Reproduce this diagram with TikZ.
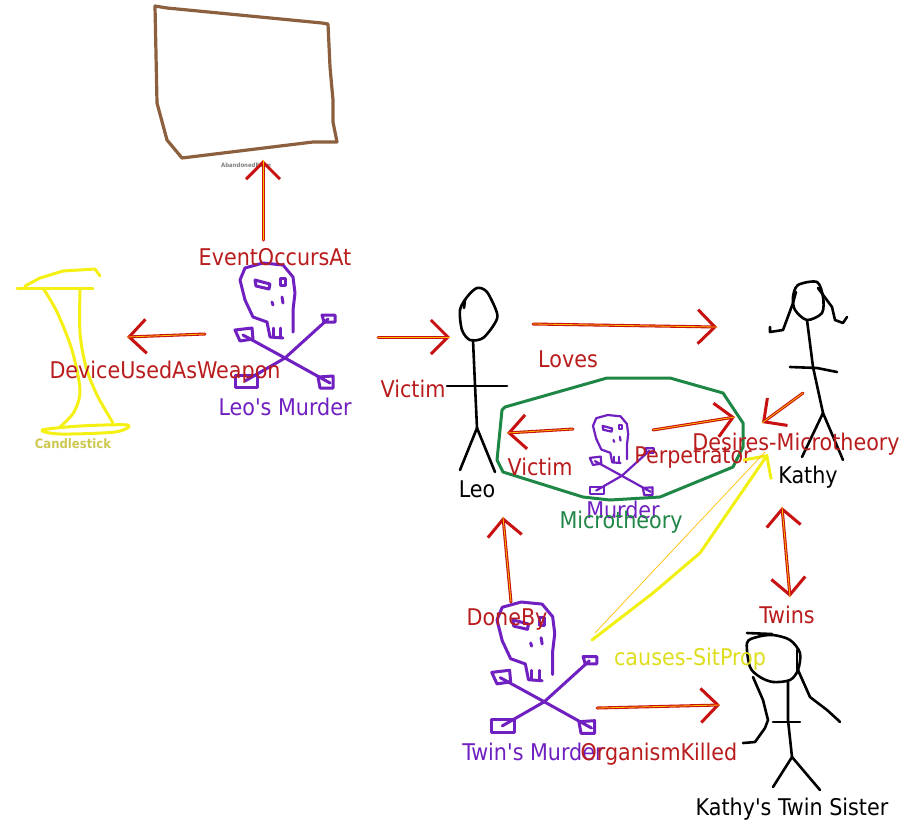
\documentclass[tikz,border=0pt]{standalone}
\usepackage{fontspec}
\setmainfont{DejaVu Sans Condensed}
\usetikzlibrary{arrows.meta}

\definecolor{relred}{RGB}{200,16,16}
\definecolor{relyel}{RGB}{255,190,0}
\definecolor{lblred}{RGB}{185,28,28}
\definecolor{murderpurple}{RGB}{112,32,192}
\definecolor{mtgreen}{RGB}{30,135,70}
\definecolor{placebrown}{RGB}{140,96,62}
\definecolor{candleyel}{RGB}{245,240,20}
\definecolor{candletext}{RGB}{205,200,80}
\definecolor{causeyel}{RGB}{240,240,20}
\definecolor{causetext}{RGB}{222,222,30}

\tikzset{
  lbl/.style={anchor=base, inner sep=0pt, font=\fontsize{23}{27}\selectfont},
  rellbl/.style={lbl, text=lblred},
  barb/.tip={Straight Barb[length=17pt,width=34pt]},
  rel/.style={draw=relred, line width=3pt, -barb,
    postaction={draw=relyel, line width=0.8pt, -}},
  relboth/.style={draw=relred, line width=3pt, barb-barb,
    postaction={draw=relyel, line width=0.8pt, -}},
  causal/.style={draw=causeyel, line width=3pt, -barb},
  figure/.style={draw=black, line width=2.6pt},
  candle/.style={draw=candleyel, line width=3pt},
  skull/.pic={
    % cranium
    \draw (5,37) -- (0,17) -- (5,5) -- (23,0) -- (43,2) -- (53,14) -- (55,30) -- (53,47) -- (53,69);
    \draw (5,37) -- (13,54) -- (27,59) -- (30,74) -- (43,75);
    \draw (33,65) -- (33,74) (40,65) -- (40,74);
    % eyes and nose
    \draw (15,17) -- (30,21) -- (29,26) -- (16,23) -- cycle;
    \draw (40,15) rectangle (45,22);
    \draw (32,39) -- (33,42) (42,34) -- (43,40);
    % crossbones
    \draw (3,72) -- (45,95) -- (90,120);
    \draw (-5,67) -- (12,65) -- (13,76) -- (0,78) -- cycle;
    \draw (78,114) -- (93,113) -- (93,125) -- (80,125) -- cycle;
    \draw (88,56) -- (45,95) -- (5,118);
    \draw (82,52) -- (95,52) -- (95,59) -- (84,59) -- cycle;
    \draw (-5,112) -- (17,112) -- (17,124) -- (-5,124) -- cycle;
  }
}

\begin{document}
\begin{tikzpicture}[x=1pt, y=-1pt, line cap=round, line join=round]
\fill[white] (0,0) rectangle (915,823);
\useasboundingbox (0,0) rectangle (915,823);

% ---------- the abandoned farm ----------
\draw[draw=placebrown, line width=3.2pt]
  (155,6) -- (157,103) -- (167,140) -- (182,158) -- (313,142) -- (337,142)
  -- (333,122) -- (333,100) -- (330,67) -- (328,24) -- (322,23) -- (167,8) -- cycle;
\node[anchor=base, inner sep=0pt, text=gray, font=\fontsize{6}{7}\selectfont\bfseries]
  (farm) at (246,167) {AbandonedFarm};

% ---------- the candlestick ----------
\draw[candle] (17,288) -- (93,288);
\draw[candle] (25,286) -- (40,278) -- (63,271) -- (95,269) -- (100,276);
\draw[candle] plot[smooth] coordinates {(43,288) (57,312) (72,350) (80,390) (74,412) (60,427)};
\draw[candle] plot[smooth] coordinates {(80,288) (80,333) (86,367) (97,395) (113,423)};
\draw[candle] plot[smooth cycle] coordinates {(42,430) (80,426) (128,425) (115,432) (60,434)};
\node[anchor=base, inner sep=0pt, text=candletext, font=\fontsize{13}{15}\selectfont\bfseries]
  (candlestick) at (73,448) {Candlestick};

% ---------- murders ----------
\pic[color=murderpurple, line width=3pt] (leosMurderSkull) at (240,263) {skull};
\node[lbl, text=murderpurple] (leosMurder) at (285,415) {Leo\textquotesingle s Murder};

\pic[color=murderpurple, line width=3pt, scale=1.05] (twinsMurderSkull) at (497,602) {skull};
\node[lbl, text=murderpurple] (twinsMurder) at (533,760) {Twin\textquotesingle s Murder};

% ---------- Leo ----------
\draw[figure] plot[smooth cycle] coordinates
  {(467,297) (477,288) (487,292) (497,313) (495,323) (483,338) (470,340) (462,330) (460,310)};
\draw[figure] (465,300) -- (464,308);
\draw[figure] (473,340) -- (475,385) -- (477,428);
\draw[figure] (447,386) -- (507,386);
\draw[figure] (460,470) -- (477,428) -- (495,472);
\node[lbl] (leo) at (477,497) {Leo};

% ---------- Kathy ----------
\draw[figure] plot[smooth cycle] coordinates
  {(798,285) (817,282) (823,297) (822,313) (807,320) (795,310) (793,297)};
\draw[figure] (818,288) -- (832,307) -- (835,320) -- (843,323) -- (847,317);
\draw[figure] (796,292) -- (793,303) -- (783,330) -- (770,332) -- (770,327);
\draw[figure] (807,320) -- (813,367) -- (823,413);
\draw[figure] (790,367) -- (817,368) -- (837,372);
\draw[figure] (802,457) -- (823,413) -- (843,460);
\node[lbl] (kathy) at (808,483) {Kathy};

% ---------- Kathy's twin sister ----------
\draw[figure] plot[smooth cycle] coordinates
  {(747,643) (757,637) (773,635) (790,640) (800,653) (798,670) (790,680) (773,682) (760,677) (750,667)};
\draw[figure] (747,633) -- (772,634);
\draw[figure] (797,650) -- (797,670);
\draw[figure] (798,670) -- (810,697) -- (827,710) -- (838,720) -- (840,722);
\draw[figure] (753,677) -- (763,700) -- (768,720) -- (765,728) -- (755,742) -- (743,743);
\draw[figure] (788,682) -- (788,720) -- (792,757);
\draw[figure] (773,722) -- (800,722);
\draw[figure] (773,787) -- (792,757) -- (820,790);
\node[lbl] (sister) at (792,815) {Kathy\textquotesingle s Twin Sister};

% ---------- the microtheory ----------
\draw[draw=mtgreen, line width=3pt]
  (505,407) -- (607,378) -- (670,378) -- (723,393) -- (743,423) -- (743,447)
  -- (733,467) -- (660,497) -- (610,500) -- (583,497) -- (503,472) -- (497,460) -- (502,410) -- cycle;
\pic[color=murderpurple, line width=2.2pt, scale=0.64] (murderSkull) at (593,415) {skull};
\node[lbl, text=murderpurple] (murder) at (623,518) {Murder};
\node[lbl, text=mtgreen] (microtheory) at (621,528) {Microtheory};

% ---------- arrow end points ----------
\coordinate (eoFrom) at (263,240);   \coordinate (eoTo) at (263,160);
\coordinate (duFrom) at (205,334);   \coordinate (duTo) at (127,337);
\coordinate (viFrom) at (378,337);   \coordinate (viTo) at (450,337);
\coordinate (loFrom) at (533,324);   \coordinate (loTo) at (717,327);
\coordinate (ivFrom) at (573,429);   \coordinate (ivTo) at (507,433);
\coordinate (peFrom) at (653,430);   \coordinate (peTo) at (735,417);
\coordinate (deFrom) at (803,393);   \coordinate (deTo) at (762,423);
\coordinate (dbFrom) at (511,602);   \coordinate (dbTo) at (503,517);
\coordinate (okFrom) at (597,708);   \coordinate (okTo) at (720,705);
\coordinate (twTop) at (782,507);    \coordinate (twBot) at (790,597);
\coordinate (csFrom) at (592,640);   \coordinate (csTo) at (768,454);

% ---------- relations ----------
\draw[rel] (eoFrom) -- (eoTo);
\node[rellbl] (eventOccursAt) at (275,265) {EventOccursAt};

\draw[rel] (duFrom) -- (duTo);
\node[rellbl] (deviceUsed) at (165,378) {DeviceUsedAsWeapon};

\draw[rel] (viFrom) -- (viTo);
\node[rellbl] (victimOuter) at (413,397) {Victim};

\draw[rel] (loFrom) -- (loTo);
\node[rellbl] (loves) at (568,367) {Loves};

\draw[rel] (ivFrom) -- (ivTo);
\node[rellbl] (victimInner) at (540,475) {Victim};

\draw[rel] (peFrom) -- (peTo);
\node[rellbl] (perpetrator) at (693,463) {Perpetrator};

\draw[rel] (deFrom) -- (deTo);
\node[rellbl] (desires) at (796,450) {Desires-Microtheory};

\draw[rel] (dbFrom) -- (dbTo);
\node[rellbl] (doneBy) at (507,625) {DoneBy};

\draw[rel] (okFrom) -- (okTo);
\node[rellbl] (organismKilled) at (659,760) {OrganismKilled};

\draw[relboth] (twTop) -- (twBot);
\node[rellbl] (twins) at (787,623) {Twins};

\draw[causal] (csFrom) -- (653,593) -- (700,553) -- (csTo);
\draw[draw=relyel, line width=0.7pt] ([shift={(3,-7)}]csFrom) -- ([shift={(-3,-2)}]csTo);
\node[lbl, text=causetext] (causes) at (690,665) {causes-SitProp};

\end{tikzpicture}
\end{document}
